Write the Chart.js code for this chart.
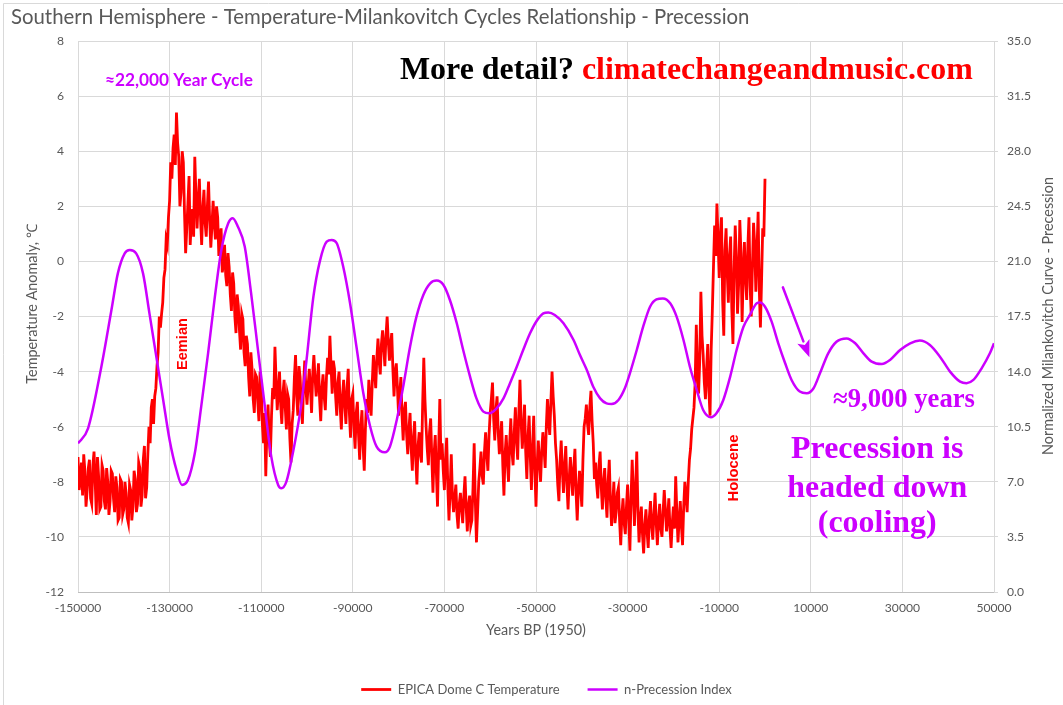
<!DOCTYPE html>
<html>
<head>
<meta charset="utf-8">
<title>Southern Hemisphere - Temperature-Milankovitch Cycles Relationship - Precession</title>
<script src="https://cdn.jsdelivr.net/npm/chart.js@4"></script>
<style>
  html, body { margin: 0; padding: 0; background: #ffffff; }
  #wrap { width: 1063px; height: 705px; position: relative; }
</style>
</head>
<body>
<div id="wrap"><canvas id="chart" width="1063" height="705"></canvas></div>
<script>
// ---- Data ---------------------------------------------------------------

// Axis tick values
const xTicks  = [-150000, -130000, -110000, -90000, -70000, -50000, -30000, -10000, 10000, 30000, 50000];
const tempTicks = [-12, -10, -8, -6, -4, -2, 0, 2, 4, 6, 8];
const precTicks = [0, 3.5, 7, 10.5, 14, 17.5, 21, 24.5, 28, 31.5, 35];

// EPICA Dome C temperature anomaly (°C), sampled every 250 years from 150 ka BP to present
const tempStartAge = -150000;
const tempAgeStep = 250;
const epicaTemp = [
  -7.1, -8.3, -7.9, -7.3, -8.5, -7.0, -7.6, -8.9, -8.3, -7.5, -7.2, -8.6, -8.8, -7.4, -6.9, -8.0, -9.2, -7.1, -7.8, -9.0,
  -8.9, -7.4, -7.6, -8.7, -9.0, -7.5, -8.0, -9.2, -8.7, -7.6, -7.7, -8.6, -9.1, -7.8, -8.2, -9.4, -9.3, -7.9, -8.0, -9.2,
  -9.0, -8.0, -8.4, -9.3, -9.5, -8.1, -8.3, -9.4, -8.9, -7.6, -7.9, -9.1, -8.8, -7.3, -7.5, -8.9, -8.5, -7.2, -6.7, -8.6,
  -8.2, -7.0, -6.0, -6.6, -5.3, -5.0, -5.9, -4.9, -4.6, -3.8, -3.3, -2.0, -2.4, -1.9, -1.5, -0.6, -0.3, 0.8, 0.6, 1.6,
  2.2, 3.6, 3.0, 4.1, 4.6, 3.5, 5.4, 4.3, 3.8, 2.0, 2.5, 4.0, 3.6, 1.8, 0.3, 1.2, 2.1, 3.1, 0.6, 1.5,
  1.9, 0.9, 3.8, 2.4, 1.2, 2.2, 3.0, 1.6, 0.6, 1.9, 2.6, 1.4, 0.9, 2.0, 2.9, 1.5, 0.5, 1.3, 2.2, 1.4,
  0.8, 2.0, 1.6, 0.2, 0.9, 1.2, -0.4, -0.1, 0.6, -0.5, -0.9, 0.3, -0.2, -1.2, -1.8, -0.4, -0.8, -2.0, -2.6, -1.2,
  -1.6, -2.5, -3.2, -1.9, -2.1, -3.3, -3.8, -2.7, -3.0, -4.2, -4.9, -3.3, -3.9, -5.0, -5.5, -4.1, -4.2, -5.1, -5.8, -4.0,
  -4.5, -5.9, -6.6, -5.5, -7.8, -6.1, -5.2, -6.5, -7.1, -5.6, -4.6, -5.0, -3.1, -4.3, -5.4, -4.7, -4.0, -5.2, -5.9, -4.8,
  -4.3, -5.3, -6.1, -4.8, -5.0, -6.4, -7.3, -5.9, -5.4, -4.2, -3.4, -4.9, -5.6, -3.8, -4.2, -5.2, -5.9, -4.5, -3.6, -4.6,
  -5.2, -4.5, -3.9, -4.6, -5.5, -4.1, -3.4, -4.2, -4.9, -4.4, -3.7, -5.0, -5.8, -4.6, -4.1, -4.9, -5.4, -4.2, -3.5, -4.1,
  -2.7, -3.8, -4.8, -3.6, -3.9, -4.9, -5.6, -4.4, -4.0, -5.3, -6.1, -4.9, -4.3, -5.2, -5.9, -4.6, -3.9, -5.5, -6.4, -5.0,
  -4.8, -6.0, -6.8, -5.5, -5.1, -6.3, -7.2, -6.0, -5.4, -6.7, -7.6, -6.1, -5.0, -5.5, -4.3, -5.1, -5.6, -4.4, -3.4, -4.0,
  -4.6, -3.5, -2.8, -3.6, -4.1, -3.0, -2.5, -3.1, -3.8, -2.7, -2.0, -2.9, -3.6, -3.0, -2.6, -3.9, -4.9, -4.0, -3.7, -4.6,
  -5.6, -4.8, -4.2, -5.6, -6.5, -5.4, -5.1, -6.3, -7.0, -6.1, -5.5, -6.8, -7.6, -6.4, -5.8, -7.2, -8.1, -6.7, -6.2, -7.0,
  -7.3, -5.2, -3.5, -5.0, -6.0, -6.8, -7.4, -6.2, -5.7, -7.1, -8.4, -7.0, -6.3, -7.7, -8.9, -6.8, -5.0, -7.2, -6.6, -7.6,
  -8.3, -7.2, -6.4, -8.2, -9.4, -8.3, -7.0, -8.5, -9.1, -8.6, -8.1, -9.2, -9.7, -8.8, -8.4, -9.0, -9.5, -8.5, -7.8, -8.9,
  -9.8, -8.9, -8.5, -9.6, -9.4, -8.2, -6.6, -8.7, -10.2, -9.1, -8.0, -7.5, -6.9, -7.8, -8.1, -6.9, -6.2, -7.0, -7.6, -6.3,
  -5.5, -5.0, -4.4, -5.7, -6.5, -5.4, -4.9, -6.2, -7.0, -6.4, -5.8, -7.4, -8.5, -7.0, -6.3, -7.3, -8.0, -6.6, -5.7, -6.9,
  -7.4, -6.2, -5.3, -6.5, -7.2, -5.5, -4.3, -5.8, -6.8, -6.1, -5.2, -6.9, -7.9, -6.4, -5.6, -7.1, -8.3, -6.8, -5.6, -7.6,
  -8.9, -7.4, -6.5, -7.3, -8.0, -6.9, -6.2, -6.8, -7.5, -6.0, -5.0, -5.8, -6.3, -5.1, -4.0, -4.9, -5.6, -6.6, -7.2, -8.1,
  -8.7, -7.3, -6.5, -7.6, -8.4, -7.4, -6.7, -8.1, -9.0, -7.9, -7.1, -7.8, -8.5, -7.5, -6.8, -8.4, -9.4, -8.3, -7.6, -8.2,
  -8.9, -7.2, -6.0, -5.7, -5.2, -5.9, -6.3, -5.3, -4.7, -5.8, -6.6, -7.9, -7.3, -8.1, -8.6, -7.4, -6.9, -8.2, -9.0, -8.0,
  -7.5, -8.6, -9.3, -8.0, -7.2, -8.7, -9.6, -8.8, -8.0, -9.5, -9.1, -8.4, -8.2, -9.4, -10.3, -9.2, -8.6, -9.5, -9.9, -8.9,
  -8.1, -9.3, -10.5, -8.6, -7.2, -8.4, -9.6, -8.2, -6.9, -9.0, -10.2, -9.4, -8.9, -9.9, -10.6, -9.6, -9.0, -9.8, -10.4, -9.3,
  -8.7, -9.6, -10.1, -9.2, -8.4, -9.5, -10.3, -9.4, -8.8, -9.7, -10.0, -9.1, -8.3, -9.0, -9.8, -9.3, -8.6, -9.7, -10.4, -9.5,
  -8.9, -9.7, -7.8, -9.1, -10.2, -9.4, -8.7, -9.6, -10.3, -8.9, -8.0, -8.5, -9.1, -8.0, -7.2, -6.8, -6.1, -5.7, -5.3, -4.4,
  -2.3, -3.9, -4.8, -3.6, -1.1, -2.7, -3.4, -4.4, -5.0, -3.9, -3.0, -4.7, -5.6, -3.2, -1.8, -0.2, 1.3, 0.2, 2.1, 0.8,
  -0.6, 0.9, 1.6, -1.4, -2.7, 0.4, 1.2, -0.4, -1.5, 0.2, 0.9, -1.7, -3.0, -0.3, 1.3, 0.1, -1.9, -0.8, 1.5, 0.3,
  -2.2, -0.5, 0.7, -0.6, -1.4, 0.5, 1.6, -0.9, -2.0, -0.2, 1.4, 0.6, -1.1, 0.4, 1.8, -1.0, -2.4, -0.7, 1.2, 0.9,
  3.0
];

// Normalized precession index: ages (years relative to 1950) and values
const precessionAge = [
  -150000, -147800, -144900, -142700, -141300, -139800, -138700, -137300, -135800, -134400,
  -132900, -131400, -130000, -128500, -127300, -126000, -124500, -123100, -121600, -120200,
  -118700, -117200, -116200, -115100, -113600, -112200, -110700, -109200, -107800, -106300,
  -105600, -104500, -103100, -101200, -100100, -98600, -97200, -95700, -94600, -93500,
  -92100, -90600, -89200, -87700, -86200, -84800, -83000, -81900, -80400, -79000,
  -77500, -76100, -74600, -73100, -71700, -70200, -68800, -67300, -65900, -64400,
  -63000, -61500, -60200, -58600, -57100, -55700, -54200, -52800, -51300, -49900,
  -48400, -47300, -45900, -44000, -41800, -40400, -38900, -37500, -36000, -34600,
  -33500, -32000, -30600, -29500, -28000, -26600, -25100, -23700, -22300, -20700,
  -19300, -17800, -16400, -14900, -13500, -11800, -10600, -9100, -7600, -6200,
  -4700, -3300, -1800, -1100, 0, 1450, 2900, 4400, 5800, 7600,
  9100, 10600, 12000, 13800, 15600, 17800, 19700, 21500, 23300, 25500,
  27300, 29500, 31700, 33800, 36000, 38200, 40400, 42600, 44000, 45500,
  47300, 49100, 50000
];
const precessionIndex = [
  9.44, 10.40, 14.31, 17.91, 20.24, 21.51, 21.72, 21.51, 20.24, 17.70,
  14.95, 12.20, 9.66, 7.75, 6.80, 7.11, 8.81, 11.77, 15.16, 18.55,
  21.72, 23.42, 23.74, 23.21, 21.94, 18.97, 15.37, 11.77, 8.60, 6.80,
  6.59, 7.01, 8.81, 12.00, 14.74, 18.76, 21.00, 22.25, 22.36, 22.15,
  20.67, 18.34, 15.58, 12.62, 10.50, 9.23, 8.87, 9.23, 10.93, 13.04,
  15.58, 17.49, 18.87, 19.61, 19.78, 19.50, 18.55, 17.07, 15.37, 13.68,
  12.30, 11.46, 11.35, 11.67, 12.30, 13.25, 14.31, 15.37, 16.43, 17.20,
  17.70, 17.76, 17.60, 17.07, 16.01, 15.05, 14.10, 13.04, 12.30, 11.98,
  11.94, 12.20, 12.94, 13.89, 15.37, 16.85, 18.12, 18.59, 18.65, 18.34,
  17.49, 16.01, 14.31, 12.83, 11.56, 11.10, 11.35, 12.20, 13.68, 15.37,
  16.85, 17.60, 18.34, 18.39, 18.12, 17.17, 15.80, 14.53, 13.47, 12.73,
  12.62, 12.94, 13.89, 15.16, 15.90, 16.11, 15.80, 15.16, 14.63, 14.48,
  14.74, 15.37, 15.80, 15.97, 15.69, 14.95, 14.00, 13.36, 13.26, 13.47,
  14.21, 15.16, 15.80
];

// ---- Styling ------------------------------------------------------------

const RED = '#FF0000';
const MAGENTA = '#CC00FF';
const LABEL_GRAY = '#595959';
const GRID_GRAY = '#d9d9d9';
const SANS = 'Lato';
const SERIF = '"Liberation Serif"';
const ARIAL = '"Liberation Sans"';

// Font size that makes a string a given width
const measureCtx = document.createElement('canvas').getContext('2d');
function fitSize(text, weight, family, width) {
  measureCtx.font = `${weight} 100px ${family}`;
  return 100 * width / measureCtx.measureText(text).width;
}

const TITLE = 'Southern Hemisphere - Temperature-Milankovitch Cycles Relationship - Precession';
const titleSize = fitSize(TITLE, 'normal', SANS, 739);
const tickSize = fitSize('-150000', 'normal', SANS, 46.7);
const legendSize = fitSize('EPICA Dome C Temperature', 'normal', SANS, 162);
const axisTitleSize = fitSize('Years BP (1950)', 'normal', SANS, 100);
const cycleSize = fitSize('≈22,000 Year Cycle', 'bold', SANS, 148);
const linkSize = fitSize('More detail? climatechangeandmusic.com', 'bold', SERIF, 573);
const yearsSize = fitSize('≈9,000 years', 'bold', SERIF, 142);
const headedSize = fitSize('headed down', 'bold', SERIF, 180);
const eemianSize = fitSize('Eemian', 'bold', ARIAL, 52);
const holoceneSize = fitSize('Holocene', 'bold', ARIAL, 67);

// Annotation anchors in data units (x: years, y: temperature axis)
const notes = {
  cycle:    { x: -144100, y: 6.37 },
  link:     { x: -79700, y: 6.62 },
  eemian:   { x: -127100, y: -3.0 },
  holocene: { x: -6770, y: -7.5 },
  years:    { x: 14850, y: -5.27 },
  cooling:  { x: 24500, lines: [
    { text: 'Precession is', y: -7.15 },
    { text: 'headed down', y: -8.54 },
    { text: '(cooling)', y: -9.81 }
  ] },
  arrowFrom: { x: 3900, y: -0.94 },
  arrowTo:   { x: 9700, y: -3.48 }
};

// ---- Plugins ------------------------------------------------------------

// Fixed legend band height at the bottom, nudged right of centre
const legendBand = {
  id: 'legendBand',
  beforeInit(chart) {
    const fit = chart.legend.fit;
    chart.legend.fit = function () {
      fit.call(this);
      this.height = 50;
    };
  },
  afterLayout(chart) {
    chart.legend.left += 15;
    chart.legend.right += 15;
  }
};

function rotatedText(ctx, text, cx, cy) {
  ctx.save();
  ctx.translate(cx, cy);
  ctx.rotate(-Math.PI / 2);
  ctx.textAlign = 'center';
  ctx.textBaseline = 'middle';
  ctx.fillText(text, 0, 0);
  ctx.restore();
}

const decorations = {
  id: 'decorations',
  afterDraw(chart) {
    const { ctx } = chart;
    const xs = chart.scales.x, ys = chart.scales.y;
    const px = v => xs.getPixelForValue(v);
    const py = v => ys.getPixelForValue(v);
    ctx.save();

    // outer frame
    ctx.strokeStyle = GRID_GRAY;
    ctx.lineWidth = 1;
    ctx.beginPath();
    ctx.moveTo(3.5, 705);
    ctx.lineTo(3.5, 3.5);
    ctx.lineTo(1063, 3.5);
    ctx.stroke();

    // chart title
    ctx.fillStyle = LABEL_GRAY;
    ctx.font = `normal ${titleSize}px ${SANS}`;
    ctx.textAlign = 'left';
    ctx.textBaseline = 'alphabetic';
    ctx.fillText(TITLE, 11, 24);

    // vertical axis titles
    ctx.font = `normal ${axisTitleSize}px ${SANS}`;
    rotatedText(ctx, 'Temperature Anomaly, ℃', 32, 304);
    rotatedText(ctx, 'Normalized Milankovitch Curve - Precession', 1048, 316);

    // cycle label
    ctx.fillStyle = MAGENTA;
    ctx.font = `bold ${cycleSize}px ${SANS}`;
    ctx.textAlign = 'left';
    ctx.textBaseline = 'alphabetic';
    ctx.fillText('≈22,000 Year Cycle', px(notes.cycle.x), py(notes.cycle.y));

    // website line: black lead-in, red address
    ctx.font = `bold ${linkSize}px ${SERIF}`;
    const lead = 'More detail? ';
    const lx = px(notes.link.x), ly = py(notes.link.y);
    ctx.fillStyle = '#000000';
    ctx.fillText(lead, lx, ly);
    ctx.fillStyle = RED;
    ctx.fillText('climatechangeandmusic.com', lx + ctx.measureText(lead).width, ly);

    // interglacial labels
    ctx.fillStyle = RED;
    ctx.font = `bold ${eemianSize}px ${ARIAL}`;
    rotatedText(ctx, 'Eemian', px(notes.eemian.x), py(notes.eemian.y));
    ctx.font = `bold ${holoceneSize}px ${ARIAL}`;
    rotatedText(ctx, 'Holocene', px(notes.holocene.x), py(notes.holocene.y));

    // precession notes
    ctx.fillStyle = MAGENTA;
    ctx.font = `bold ${yearsSize}px ${SERIF}`;
    ctx.textAlign = 'left';
    ctx.textBaseline = 'alphabetic';
    ctx.fillText('≈9,000 years', px(notes.years.x), py(notes.years.y));

    ctx.font = `bold ${headedSize}px ${SERIF}`;
    ctx.textAlign = 'center';
    notes.cooling.lines.forEach(l => ctx.fillText(l.text, px(notes.cooling.x), py(l.y)));

    // downward arrow
    const x0 = px(notes.arrowFrom.x), y0 = py(notes.arrowFrom.y);
    const x1 = px(notes.arrowTo.x), y1 = py(notes.arrowTo.y);
    const ang = Math.atan2(y1 - y0, x1 - x0);
    const headLen = 17, headHalf = 6.5;
    const bx = x1 - headLen * Math.cos(ang), by = y1 - headLen * Math.sin(ang);
    ctx.strokeStyle = MAGENTA;
    ctx.lineWidth = 2.5;
    ctx.lineCap = 'round';
    ctx.beginPath();
    ctx.moveTo(x0, y0);
    ctx.lineTo(bx, by);
    ctx.stroke();
    ctx.beginPath();
    ctx.moveTo(x1, y1);
    ctx.lineTo(bx + headHalf * Math.sin(ang), by - headHalf * Math.cos(ang));
    ctx.lineTo(bx + 4 * Math.cos(ang), by + 4 * Math.sin(ang));
    ctx.lineTo(bx - headHalf * Math.sin(ang), by + headHalf * Math.cos(ang));
    ctx.closePath();
    ctx.fill();

    ctx.restore();
  }
};

// ---- Chart --------------------------------------------------------------

const tempPoints = epicaTemp.map((v, i) => ({ x: tempStartAge + i * tempAgeStep, y: v }));
const precPoints = precessionAge.map((a, i) => ({ x: a, y: precessionIndex[i] }));

const tickFont = { family: SANS, size: tickSize };

new Chart(document.getElementById('chart'), {
  type: 'line',
  data: {
    datasets: [
      {
        label: 'EPICA Dome C Temperature',
        data: tempPoints,
        yAxisID: 'y',
        borderColor: RED,
        backgroundColor: RED,
        borderWidth: 2.8,
        borderJoinStyle: 'miter',
        pointRadius: 0,
        tension: 0,
        order: 2
      },
      {
        label: 'n-Precession Index',
        data: precPoints,
        yAxisID: 'y2',
        borderColor: MAGENTA,
        backgroundColor: MAGENTA,
        borderWidth: 2.5,
        pointRadius: 0,
        cubicInterpolationMode: 'monotone',
        order: 1
      }
    ]
  },
  options: {
    responsive: false,
    animation: false,
    devicePixelRatio: 1,
    layout: { padding: { top: 41, left: 0, right: 0, bottom: 0 } },
    scales: {
      x: {
        type: 'linear',
        min: -150000,
        max: 50000,
        afterBuildTicks(scale) { scale.ticks = xTicks.map(v => ({ value: v })); },
        afterFit(scale) { scale.height = 63; },
        ticks: {
          color: LABEL_GRAY,
          font: tickFont,
          padding: 9,
          maxRotation: 0,
          autoSkip: false,
          callback: v => String(v)
        },
        grid: { color: GRID_GRAY, drawTicks: false },
        border: { color: '#bfbfbf' },
        title: {
          display: true,
          text: 'Years BP (1950)',
          color: LABEL_GRAY,
          font: { family: SANS, size: axisTitleSize },
          padding: { top: 0, bottom: 16 }
        }
      },
      y: {
        position: 'left',
        min: -12,
        max: 8,
        afterBuildTicks(scale) { scale.ticks = tempTicks.map(v => ({ value: v })); },
        afterFit(scale) { scale.width = 78; },
        ticks: { color: LABEL_GRAY, font: tickFont, padding: 14, callback: v => String(v) },
        grid: { color: GRID_GRAY, drawTicks: false },
        border: { display: false }
      },
      y2: {
        position: 'right',
        min: 0,
        max: 35,
        afterBuildTicks(scale) { scale.ticks = precTicks.map(v => ({ value: v })); },
        afterFit(scale) { scale.width = 69; },
        ticks: { color: LABEL_GRAY, font: tickFont, padding: 9, callback: v => Number(v).toFixed(1) },
        grid: { drawOnChartArea: false, drawTicks: true, tickLength: 4, color: GRID_GRAY },
        border: { color: GRID_GRAY }
      }
    },
    plugins: {
      title: { display: false },
      tooltip: { enabled: false },
      legend: {
        position: 'bottom',
        labels: {
          usePointStyle: true,
          pointStyle: 'line',
          pointStyleWidth: 30,
          padding: 28,
          color: LABEL_GRAY,
          font: { family: SANS, size: legendSize },
          sort: (a, b) => a.datasetIndex - b.datasetIndex
        }
      }
    }
  },
  plugins: [legendBand, decorations]
});
</script>
</body>
</html>
